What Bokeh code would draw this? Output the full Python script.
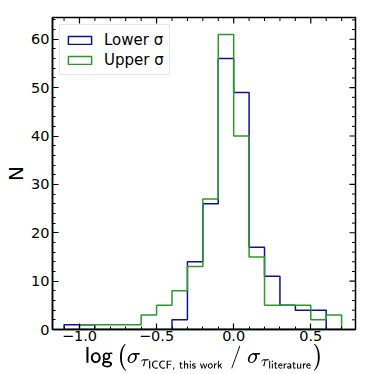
import numpy as np
from bokeh.plotting import figure
from bokeh.models import Range1d, CustomJSTickFormatter, SingleIntervalTicker, Legend, LegendItem
from bokeh.embed import file_html
from bokeh.resources import INLINE

# ---- data ----
bin_edges = [-1.1, -1.0, -0.9, -0.8, -0.7, -0.6, -0.5, -0.4, -0.3, -0.2,
             -0.1, 0.0, 0.1, 0.2, 0.3, 0.4, 0.5, 0.6, 0.7]
lower_counts = [1, 1, 0, 0, 0, 0, 0, 2, 14, 26, 56, 49, 17, 11, 5, 4, 4, 0]
upper_counts = [0, 1, 1, 1, 1, 3, 5, 8, 13, 27, 61, 40, 15, 5, 5, 5, 2, 3]
series_labels = ["Lower σ", "Upper σ"]
series_colors = ["#10109a", "#2a9a2a"]

# axis ticks
x_major = [-1.0, -0.5, 0.0, 0.5]
x_minor = [-1.1, -0.9, -0.8, -0.7, -0.6, -0.4, -0.3, -0.2, -0.1, 0.1, 0.2, 0.3, 0.4, 0.6, 0.7]
y_major = [0, 10, 20, 30, 40, 50, 60]
y_minor = [2, 4, 6, 8, 12, 14, 16, 18, 22, 24, 26, 28, 32, 34, 36, 38, 42, 44, 46, 48,
           52, 54, 56, 58, 62, 64]
X_START, X_END = -1.175, 0.79
Y_START, Y_END = 0, 64.5

FONT = "DejaVu Sans"

def step_xy(edges, counts):
    e = np.asarray(edges, dtype=float)
    c = np.asarray(counts, dtype=float)
    xs = np.concatenate([[e[0]], np.repeat(e, 2)[1:-1], [e[-1]]])
    ys = np.concatenate([[0.0], np.repeat(c, 2), [0.0]])
    return xs, ys

p = figure(width=374, height=374, output_backend="svg", toolbar_location=None,
           x_range=Range1d(X_START, X_END), y_range=Range1d(Y_START, Y_END),
           min_border_left=52, min_border_right=19, min_border_top=17, min_border_bottom=45)
p.background_fill_color = "white"
p.border_fill_color = "white"
p.grid.visible = False
p.outline_line_color = "black"
p.outline_line_width = 1.5

legend_items = []
for counts, lab, col in zip([lower_counts, upper_counts], series_labels, series_colors):
    xs, ys = step_xy(bin_edges, counts)
    r = p.patch(xs, ys, fill_alpha=0, line_color=col, line_width=1.5)
    legend_items.append(LegendItem(label=lab, renderers=[r]))

# inward ticks on the top and right spines
p.scatter(x=[X_END] * len(y_major), y=y_major, marker="dash", size=12, line_color="black", line_width=1.2)
p.scatter(x=[X_END] * len(y_minor), y=y_minor, marker="dash", size=7, line_color="black", line_width=1)
p.scatter(x=x_major, y=[Y_END] * len(x_major), marker="dash", angle=np.pi / 2, size=12, line_color="black", line_width=1.2)
p.scatter(x=x_minor, y=[Y_END] * len(x_minor), marker="dash", angle=np.pi / 2, size=7, line_color="black", line_width=1)

fmt = CustomJSTickFormatter(code="""
const s = Math.abs(tick).toFixed(1);
return (tick < -1e-9 ? "\\u2212" : "") + s;
""")
yfmt = CustomJSTickFormatter(code="return Math.round(tick).toString();")

def style_axis(ax):
    ax.axis_line_width = 1.5
    ax.axis_line_color = "black"
    ax.major_tick_in = 6
    ax.major_tick_out = 0
    ax.minor_tick_in = 3
    ax.minor_tick_out = 0
    ax.major_tick_line_width = 1.2
    ax.minor_tick_line_width = 1
    ax.major_label_text_font = FONT
    ax.major_label_text_color = "black"
    ax.major_label_text_font_size = "14.5px"
    ax.axis_label_text_color = "black"

xb = p.xaxis[0]
xb.ticker = SingleIntervalTicker(interval=0.5, num_minor_ticks=5)
xb.formatter = fmt
style_axis(xb)
xb.major_label_standoff = 1
xb.axis_label = (r"$$\mathsf{log}\left(\sigma_{\tau_{\mathsf{ICCF,\,this\,work}}}\ /\ "
                 r"\sigma_{\tau_{\mathsf{literature}}}\right)$$")
xb.axis_label_text_font_size = "18.5px"
xb.axis_label_standoff = 0

yl = p.yaxis[0]
yl.ticker = SingleIntervalTicker(interval=10, num_minor_ticks=5)
yl.formatter = yfmt
style_axis(yl)
yl.major_label_standoff = 3
yl.axis_label = "N"
yl.axis_label_text_font = FONT
yl.axis_label_text_font_style = "normal"
yl.axis_label_text_font_size = "20px"
yl.axis_label_standoff = 0

leg = Legend(items=legend_items, location="top_left")
leg.margin = 7
leg.padding = 5
leg.spacing = 1
leg.label_height = 19
leg.glyph_width = 29
leg.glyph_height = 10
leg.label_standoff = 10
leg.label_text_font = FONT
leg.label_text_font_size = "15px"
leg.label_text_color = "black"
leg.border_line_color = "#d0d0d0"
leg.border_line_width = 1
leg.background_fill_alpha = 0.8
p.add_layout(leg)

open("out.html", "w").write(file_html(p, INLINE))
